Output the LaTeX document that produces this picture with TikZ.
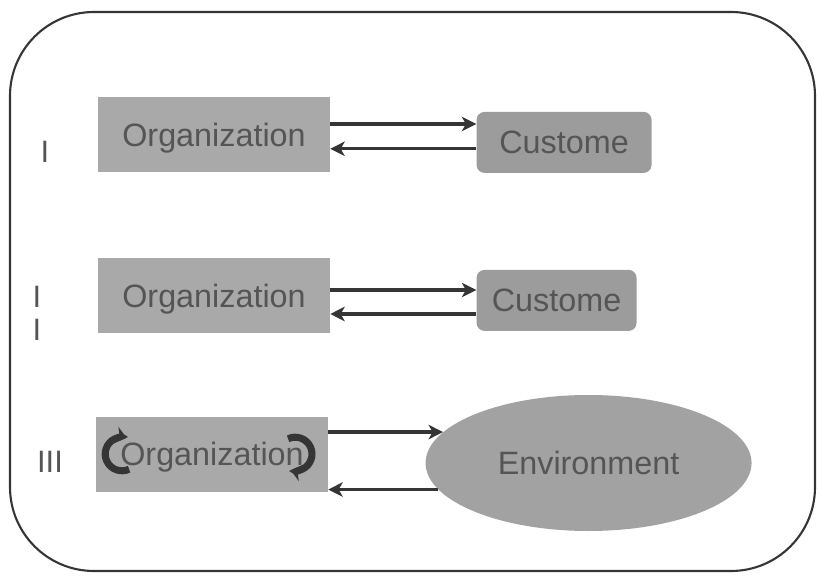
\documentclass[tikz,border=0pt]{standalone}
\usepackage{fontspec}
\setmainfont{Liberation Sans}
\usepackage{tikz}
\usetikzlibrary{arrows.meta,positioning,shapes.geometric}
\definecolor{BoxGray}{HTML}{A9A9A9}
\definecolor{CustGray}{HTML}{9C9C9C}
\definecolor{EnvGray}{HTML}{A2A2A2}
\definecolor{TextGray}{HTML}{555555}
\definecolor{LineGray}{HTML}{353535}

\begin{document}
\begin{tikzpicture}[node distance=3.65cm,>={Stealth[length=0.36cm,width=0.36cm,inset=0.1cm]}]
\tikzstyle{orgbox}=[fill=BoxGray,align=center,minimum width=5.8cm,minimum height=1.875cm,text depth=0pt,text=TextGray,font=\fontsize{23}{28}\selectfont]
\tikzstyle{custbox}=[fill=CustGray,rounded corners=0.2cm,align=center,minimum width=4.375cm,minimum height=1.525cm,text=TextGray,font=\fontsize{23}{28}\selectfont]
\tikzstyle{envnode}=[ellipse,fill=EnvGray,inner sep=0pt,minimum width=8.15cm,minimum height=3.4cm,text=TextGray,font=\fontsize{23}{28}\selectfont]
\tikzstyle{lbl}=[text=TextGray,font=\fontsize{22}{23.5}\selectfont,align=center]
\tikzstyle{link}=[->,line width=2.3pt,draw=LineGray]
\tikzstyle{turn}=[->,line width=5pt,draw=LineGray,>={Stealth[length=0.26cm,width=0.42cm]}]
\useasboundingbox (0,0) rectangle (20.525,14.4);
\draw[LineGray,line width=1.5pt,rounded corners=2.1cm] (0.25,0.125) rectangle (20.375,14.1);
% row I
\node[orgbox] (org1) at (5.35,11.04) {Organization};
\node[custbox,right=of org1,yshift=-0.2cm] (cust1) {Custome};
\node[lbl] (lab1) at (1.12,10.6) {I};
\draw[link] ([yshift=0.26cm]org1.east) -- ([yshift=0.26cm]org1.east -| cust1.west);
\draw[link] ([yshift=-0.36cm]org1.east -| cust1.west) -- ([yshift=-0.36cm]org1.east);
% row II
\node[orgbox] (org2) at (5.35,7.0) {Organization};
\node[custbox,right=of org2,yshift=-0.11cm,minimum width=4cm] (cust2) {Custome};
\node[lbl] (lab2) at (0.92,6.56) {I\\I};
\draw[link] ([yshift=0.15cm]org2.east) -- ([yshift=0.15cm]org2.east -| cust2.west);
\draw[link] ([yshift=-0.45cm]org2.east -| cust2.west) -- ([yshift=-0.45cm]org2.east);
% row III
\node[orgbox] (org3) at (5.3,3.05) {Organization};
\node[envnode,right=2.425cm of org3,yshift=-0.225cm] (env) {Environment};
\node[lbl] (lab3) at (1.25,2.85) {III};
\draw[link] (org3.east |- env.168) -- (env.168);
\draw[link] (env.190) -- (org3.east |- env.190);
% turning arrows round the organization
\draw[turn] ([xshift=-2.25cm]org3.center) ++(-65:0.42cm) arc (-65:-285:0.42cm);
\draw[turn] ([xshift=2.08cm]org3.center) ++(115:0.42cm) arc (115:-105:0.42cm);
\end{tikzpicture}
\end{document}
